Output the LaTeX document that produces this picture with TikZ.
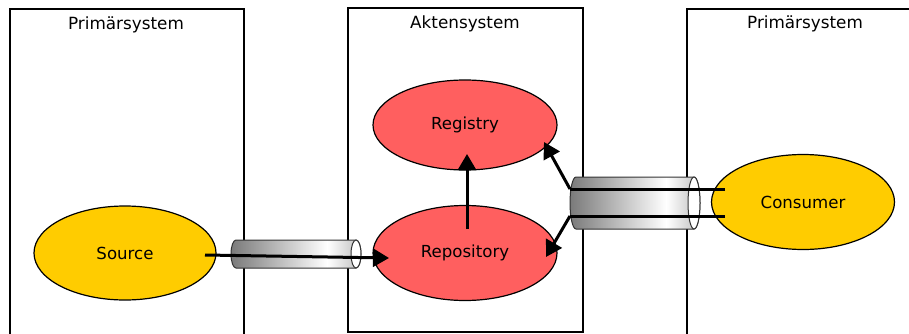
\documentclass[tikz,border=0pt]{standalone}
\usepackage{fontspec}
\setmainfont{DejaVu Sans}
\usetikzlibrary{arrows.meta,shapes.geometric}
\definecolor{pipedark}{HTML}{7A7A7A}
\definecolor{pipelight}{HTML}{BDBDBD}
\definecolor{ylw}{HTML}{FFCC00}
\definecolor{rd}{HTML}{FF5F5F}
\pgfdeclarehorizontalshading{pipeshade}{100bp}{color(0bp)=(pipedark); color(25bp)=(pipedark); color(62bp)=(white); color(75bp)=(pipelight); color(100bp)=(pipelight)}
\begin{document}
\begin{tikzpicture}[x=1pt,y=-1pt,
  every node/.style={font=\fontsize{16.6}{19}\selectfont},
  title/.style={font=\fontsize{16.8}{19}\selectfont},
  sysbox/.style={draw, line width=1.2pt, fill=white, inner sep=0pt},
  ell/.style={ellipse, draw, line width=1.2pt, inner sep=0pt},
  pipebody/.style={shading=pipeshade, draw=black!80, line width=1pt},
  pipeend/.style={fill=white, draw=black!80, line width=1pt},
  conn/.style={line width=3pt, -{Triangle[length=16pt,width=18pt]}},
  plain/.style={line width=3pt}]
\useasboundingbox (0,0) rectangle (909,334);
\clip (0,0) rectangle (909,334);
% system boxes
\node[sysbox, minimum width=234pt, minimum height=336pt] (sysL) at (127,177) {};
\node[sysbox, minimum width=235pt, minimum height=324pt] (sysM) at (465.5,170) {};
\node[sysbox, minimum width=243pt, minimum height=336pt] (sysR) at (808.5,177) {};
\node[title] (tL) at (126,25) {Primärsystem};
\node[title] (tM) at (465,24) {Aktensystem};
\node[title] (tR) at (805,24) {Primärsystem};
% pipes
\path[pipebody] (236,240) -- (356,240) arc[start angle=-90, end angle=90, x radius=5, y radius=14] -- (236,268) arc[start angle=90, end angle=270, x radius=5, y radius=14] -- cycle;
\draw[pipeend] (356,254) ellipse[x radius=5, y radius=14];
\path[pipebody] (576,177) -- (694,177) arc[start angle=-90, end angle=90, x radius=6, y radius=26] -- (576,229) arc[start angle=90, end angle=270, x radius=6, y radius=26] -- cycle;
\draw[pipeend] (694,203) ellipse[x radius=6, y radius=26];
% ellipses
\node[ell, fill=ylw, minimum width=182pt, minimum height=94pt] (source) at (125,253) {Source};
\node[ell, fill=rd, minimum width=184pt, minimum height=90pt] (registry) at (465,125) {Registry};
\node[ell, fill=rd, minimum width=184pt, minimum height=95pt] (repository) at (465,253) {Repository};
\node[ell, fill=ylw, minimum width=183pt, minimum height=95pt] (consumer) at (803,202) {Consumer};
% connector points
\coordinate (srcOut) at (205,255);
\coordinate (repIn) at (389,258);
\coordinate (repUp) at (467,229);
\coordinate (regIn) at (467,154);
\coordinate (conA) at (725,189);
\coordinate (jA) at (570,189);
\coordinate (regSide) at (544,142);
\coordinate (conB) at (725,216);
\coordinate (jB) at (570,216);
\coordinate (repSide) at (546,257);
\draw[conn] (srcOut) -- (repIn);
\draw[conn] (repUp) -- (regIn);
\draw[plain] (conA) -- (jA);
\draw[conn] (jA) -- (regSide);
\draw[plain] (conB) -- (jB);
\draw[conn] (jB) -- (repSide);
\end{tikzpicture}
\end{document}
